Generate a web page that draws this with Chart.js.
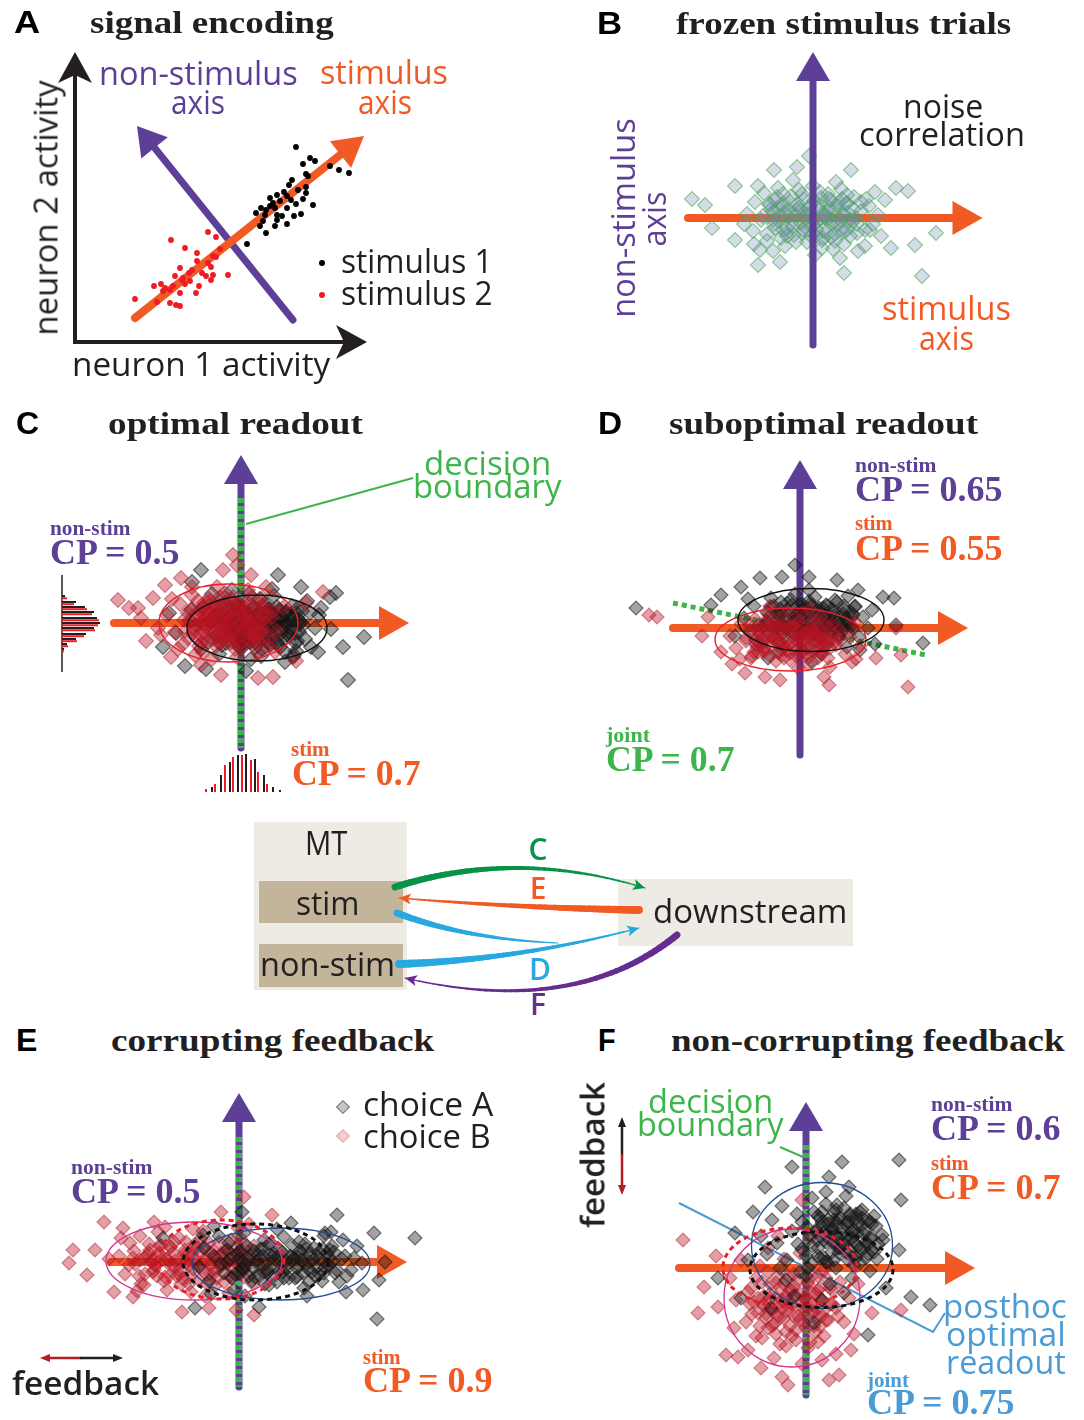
<!DOCTYPE html>
<html>
<head>
<meta charset="utf-8">
<script src="https://cdn.jsdelivr.net/npm/chart.js@4"></script>
<style>
  body { margin: 0; background: #fff; }
  #fig { position: relative; width: 1084px; height: 1420px; overflow: hidden; background: #fff; }
  #fig canvas { position: absolute; }
  .t { position: absolute; white-space: nowrap; line-height: 1; transform-origin: 0 0; }
</style>
</head>
<body>
<div id="fig"></div>
<script>
// ---------- data (units: arbitrary activity, origin where the axes cross) ----------

// A: signal encoding
const stim1Trials = [[22.1,19.5],[23.5,18.4],[24.0,18.1],[22.8,17.8],[25.5,17.6],[26.4,17.2],[27.4,16.9],[23.1,16.8],[21.7,16.2],
  [21.4,15.7],[23.1,15.5],[22.3,15.2],[20.2,14.7],[20.9,15.0],[23.1,14.9],[19.5,14.4],[21.2,14.6],[21.6,14.2],[22.8,14.3],
  [20.5,14.1],[19.8,13.9],[22.1,13.8],[23.8,13.7],[19.5,13.6],[18.6,13.4],[20.0,13.4],[21.2,13.4],[19.1,13.2],[18.1,12.9],
  [19.0,12.7],[20.2,12.7],[20.7,12.6],[21.9,12.6],[22.6,12.8],[18.8,12.1],[20.2,12.2],[21.2,11.8],[18.5,11.6],[20.0,11.6],
  [19.1,10.9],[17.2,9.8],[23.3,16.6]];
const stim2Trials = [[13.3,11.0],[14.1,10.5],[9.6,10.2],[11.0,9.4],[14.5,9.3],[12.2,8.9],[13.8,8.6],[14.1,8.5],[12.2,8.1],
  [13.3,7.9],[10.5,7.4],[11.7,7.2],[13.6,7.5],[11.4,6.9],[12.7,6.9],[10.0,6.6],[10.8,6.4],[13.1,6.6],[13.8,6.7],[15.3,6.7],
  [10.7,6.2],[11.5,6.1],[11.0,5.8],[13.6,6.2],[7.9,5.6],[8.6,5.8],[9.8,5.6],[12.4,5.6],[9.0,5.4],[8.8,5.1],[9.5,5.2],
  [10.5,4.9],[12.1,4.9],[6.0,4.3],[8.2,4.0],[9.5,3.9],[10.1,3.7],[10.5,3.6]];
const aNeuron1Axis = [[0,0],[29.2,0]];
const aNeuron2Axis = [[0,0],[0,29.0]];
const aStimAxis = [[6.0,2.4],[28.9,20.6]];
const aNonStimAxis = [[21.8,2.2],[6.2,21.6]];

// B: frozen stimulus trials
const frozenTrials = [[-12.1,1.9],[8.3,3.0],[9.5,2.7],[12.3,-1.5],[10.9,-5.8],[-0.4,6.2],[10.2,-2.7],[7.8,-3.0],[-5.5,-4.7],
  [3.1,-5.5],[3.8,4.8],[-1.6,5.1],[-3.9,4.8],[-7.8,3.2],[-10.8,1.3],[-10.1,-1.0],[5.7,-1.2],[7.2,1.8],[-5.3,-3.2],[2.7,-4.0],
  [-7.8,-2.2],[-3.3,-4.4],
  [-6.6,0.4],[-6.0,-1.3],[-5.8,1.6],[-5.2,-0.2],[-4.9,2.5],[-4.6,-2.3],[-4.2,0.9],[-3.8,-1.0],[-3.5,3.0],[-3.1,1.4],
  [-2.8,-2.8],[-2.5,0.1],[-2.2,2.2],[-1.9,-1.7],[-1.6,0.8],[-1.2,-0.5],[-0.9,1.9],[-0.6,-2.4],[-0.3,0.3],[0.0,3.2],
  [0.3,-1.1],[0.6,1.2],[0.9,-3.0],[1.2,0.0],[1.5,2.4],[1.8,-1.9],[2.1,0.9],[2.4,-0.7],[2.8,2.9],[3.1,-2.6],[3.4,1.5],
  [3.7,-0.2],[4.1,2.1],[4.4,-1.5],[4.8,0.7],[5.2,-2.8],[5.6,1.2],[6.0,-0.6],[6.5,0.3],[-6.9,-0.6],[-5.5,3.2],[-4.0,-3.3],
  [-2.0,3.8],[0.2,-3.7],[2.3,3.6],[4.5,-3.3],[6.2,2.6],[-3.4,-0.3],[-1.0,-1.2],[0.8,2.0],[2.9,0.4],[4.3,0.0],[-4.4,1.4],
  [-2.6,-1.5],[1.0,-2.0],[3.4,-1.2],[5.3,1.9],[-0.2,-0.6],[1.6,1.0],[-1.4,2.8],[-5.9,-2.6],[6.8,-1.8],[-3.0,2.4],[2.0,-3.1],
  [-5.0,0.2],[-4.6,-1.6],[-4.3,1.3],[-3.9,-0.6],[-3.6,2.1],[-3.2,-2.0],[-2.9,0.5],[-2.6,-1.0],[-2.3,1.6],[-2.0,-0.3],
  [-1.7,-2.4],[-1.4,1.0],[-1.1,2.4],[-0.8,-0.9],[-0.5,0.9],[-0.2,-1.8],[0.1,1.7],[0.4,-0.4],[0.7,2.6],[1.0,0.5],
  [1.3,-1.4],[1.6,1.9],[1.9,-0.2],[2.2,-2.3],[2.5,1.2],[2.8,-1.1],[3.1,0.3],[3.4,2.3],[3.7,-1.8],[4.0,0.9],[4.4,-0.6],
  [4.8,1.6],[5.2,-1.2],[-3.0,1.2],[-1.0,0.1],[0.9,-2.2],[2.9,1.9],[-4.0,0.6],[1.5,0.0],[3.6,-0.3],
  [-4.0,-0.2],[-3.5,1.0],[-3.0,-1.2],[-2.5,0.8],[-2.0,-0.8],[-1.5,1.4],[-1.0,-1.5],[-0.5,0.4],[0.0,-0.7],[0.5,1.0],
  [1.0,-1.2],[1.5,0.7],[2.0,-0.5],[2.5,1.5],[3.0,-1.4],[3.5,0.5],[4.0,-0.3],[-3.2,0.2],[-1.8,0.3],[-0.3,1.2],[1.2,0.2],
  [2.7,-0.2],[-2.6,-1.8],[0.3,-1.8],[2.2,-1.6],[-1.2,0.8],[0.8,0.0],[3.3,1.4],[-3.8,1.8],[1.8,1.8]];
const bStimAxis = [[-12.5,0],[16.95,0]];
const bNonStimAxis = [[0,-12.7],[0,16.6]];

// C: optimal readout
const cChoiceA = [[-4.0,5.3],[3.7,4.8],[9.5,3.0],[8.9,2.6],[12.3,-1.4],[10.2,-2.4],[10.7,-5.7],[7.7,-2.9],[-7.8,-2.4],
  [-5.6,-4.3],[-3.5,-4.6],[4.4,-3.9],[5.3,-3.2],[8.0,1.5],[-4.9,4.1],[-7.2,1.0],[6.0,3.6],[0.5,-4.8],[-6.5,-1.0],[9.0,-0.6],
  [-4.5,-0.2],[-3.8,1.6],[-3.3,-1.9],[-2.6,0.7],[-2.2,-3.1],[-1.7,2.5],[-1.2,-0.8],[-0.7,1.1],[-0.2,-2.4],[0.3,0.2],
  [0.8,2.9],[1.2,-1.5],[1.6,0.8],[2.0,-3.3],[2.4,1.9],[2.9,-0.4],[3.3,2.7],[3.7,-2.2],[4.2,0.5],[4.6,-1.1],[5.1,1.7],
  [5.5,-2.8],[6.0,0.1],[6.4,-1.6],[6.9,1.0],[7.4,-0.5],[7.8,0.8],[-4.0,-2.6],[-2.9,2.9],[-0.9,3.3],[1.0,-3.6],[3.1,3.4],
  [5.2,-3.4],[6.6,2.2],[-1.5,-2.0],[0.6,-0.9],[2.2,0.0],[3.9,1.2],[5.8,-0.9],[-3.0,0.1],[1.9,2.4],[4.4,-2.9],[-0.4,1.8],
  [2.7,-1.9],[7.0,-2.4],[-5.0,1.3],[1.4,-0.2],[3.5,-0.9],[-1.9,0.4],[4.9,0.3],[0.0,-1.6],[2.6,1.1],[5.5,1.0],[-2.4,-1.2],
  [6.2,-0.2],[-0.6,-0.4],
  [-2.7,-0.9],[-2.3,0.9],[-1.9,-2.2],[-1.5,0.2],[-1.1,1.5],[-0.8,-1.4],[-0.4,0.6],[0.0,-2.5],[0.2,1.3],[0.5,-0.3],
  [0.9,-1.9],[1.2,1.6],[1.5,-1.1],[1.8,0.5],[2.1,-2.6],[2.4,-0.6],[2.7,1.3],[3.0,-1.5],[3.3,0.1],[3.6,1.6],[3.9,-2.4],
  [4.2,-0.3],[4.5,1.1],[4.8,-1.3],[5.1,0.6],[5.5,-2.0],[5.8,-0.1],[6.1,1.2],[-2.0,1.7],[-0.2,-1.0],[1.0,0.3],[2.0,-1.6],
  [3.1,0.9],[4.0,-1.0],[5.0,-0.6],[0.4,-1.5],[2.9,-2.2],[-1.2,-0.4],[3.8,0.5],[1.4,-2.4],[4.6,0.0],[-0.6,1.9],[2.5,0.2],
  [5.6,1.4],[0.7,0.9],
  [-1.4,-0.6],[-1.0,0.8],[-0.6,-1.7],[-0.2,0.2],[0.2,1.2],[0.6,-1.0],[1.0,0.4],[1.4,-1.9],[1.8,1.0],[2.2,-0.5],
  [2.6,0.9],[3.0,-1.2],[3.4,0.4],[3.8,1.3],[4.2,-1.6],[4.6,-0.2],[5.0,0.9],[5.4,-1.0],[5.8,0.3],[0.0,-0.9],[0.8,-0.1],
  [1.6,0.1],[2.4,-1.4],[3.2,-0.3],[4.0,0.6],[4.8,-0.9],[5.6,-1.8],[1.2,1.4],[2.8,1.4],[3.6,-1.9],[-0.8,0.0],[2.0,-0.9],
  [4.4,1.0],[0.4,-1.9],[3.0,0.0],[1.5,-0.7],[5.2,0.3],[-0.4,-1.2],[2.6,0.3],[4.0,-0.6]];
const cChoiceB = [[-12.3,2.3],[-11.2,1.5],[-10.3,1.5],[-8.8,2.5],[-7.6,3.8],[-6.0,4.5],[-1.8,5.3],[-0.8,6.8],[1.0,4.8],
  [2.5,3.6],[8.2,3.1],[1.7,-5.5],[3.2,-5.4],[-2.0,-5.2],[-4.0,-4.2],[-7.0,-3.4],[-8.3,-0.5],[-0.4,5.8],[-9.5,-1.8],
  [-10.0,0.5],[5.5,-3.8],[6.5,2.0],
  [-7.4,0.8],[-6.6,-0.9],[-6.1,1.9],[-5.8,-2.1],[-5.2,0.2],[-4.9,2.8],[-4.5,-1.4],[-4.1,1.2],[-3.8,-2.9],[-3.4,0.5],
  [-3.1,2.2],[-2.8,-0.6],[-2.5,1.5],[-2.2,-2.0],[-1.9,0.1],[-1.6,3.0],[-1.3,-1.2],[-1.0,1.0],[-0.6,-2.6],[-0.3,2.0],
  [0.0,-0.3],[0.4,0.9],[0.8,-1.8],[1.1,2.6],[1.5,0.3],[1.9,-1.0],[2.3,1.6],[2.7,-2.3],[3.1,0.6],[3.6,-0.8],[-6.9,2.4],
  [-6.3,-2.6],[-4.6,-3.2],[-2.4,3.6],[-0.4,-3.4],[0.7,3.3],[1.7,-3.0],[-3.5,-0.1],[-1.4,0.6],[0.2,-2.4],[-5.3,1.0],
  [-4.2,-2.3],[-0.8,2.6],[2.4,0.0],[-8.0,-1.2],[4.2,1.5],[-2.9,-3.6],[1.3,-0.6],[-4.9,3.6],[3.4,-2.9],[-3.0,1.0],
  [-1.9,-1.4],[-0.2,1.4],[1.0,-1.3],[-5.6,-0.8],[-2.1,2.6],[0.6,0.2],[2.0,2.4],[-3.7,2.0],[-1.1,-2.0],
  [-5.7,0.3],[-5.3,-1.5],[-4.9,1.4],[-4.6,-0.6],[-4.3,2.2],[-4.0,-2.0],[-3.7,0.8],[-3.4,-1.2],[-3.1,1.8],[-2.8,0.2],
  [-2.5,-2.3],[-2.2,1.1],[-1.9,-0.8],[-1.6,2.0],[-1.3,-1.7],[-1.0,0.4],[-0.7,-0.5],[-0.4,1.6],[-0.1,-2.1],[0.2,0.7],
  [0.5,-1.0],[0.8,1.9],[1.1,-0.1],[1.4,-2.0],[1.7,1.0],[2.0,-0.9],[2.4,0.5],[2.8,-1.6],[3.2,1.2],[-5.0,0.2],[-3.9,-0.3],
  [-2.6,-1.0],[-1.5,0.8],[-0.3,-1.3],[0.9,0.3],[2.1,1.8],[-4.4,1.0],[-3.2,2.4],[-0.9,2.3],[1.5,-1.3],[-2.0,-1.9],
  [-3.6,0.0],[0.0,0.0],[-1.8,0.3],[-4.8,-1.0],
  [-4.4,0.5],[-4.1,-1.1],[-3.8,1.5],[-3.5,-0.4],[-3.2,0.9],[-2.9,-1.6],[-2.6,1.6],[-2.3,-0.1],[-2.0,1.0],[-1.7,-1.2],
  [-1.4,1.7],[-1.1,-0.6],[-0.8,0.6],[-0.5,-1.7],[-0.2,1.1],[0.1,-0.8],[0.4,1.5],[0.7,-0.2],[1.0,0.8],[1.3,-1.5],
  [1.6,1.4],[1.9,0.1],[2.2,-0.7],[2.5,1.0],[-4.0,0.0],[-3.0,0.3],[-2.2,-0.9],[-1.3,0.2],[-0.4,-0.3],[0.5,0.4],
  [1.4,-0.5],[-3.6,-1.7],[-1.8,1.8],[0.2,1.8],[1.8,-1.9],[-2.7,0.7],[-0.9,-1.3],[0.9,-1.0],[-1.6,-0.3],[-3.3,1.2]];
const cFitA = [1.6, -0.5, 7.0, 3.3];
const cFitB = [-1.25, 0.0, 6.95, 3.9];
const cStimAxis = [[-12.7,0],[16.8,0]];
const cNonStimAxis = [[0,-12.5],[0,16.8]];
const cBoundary = [[0,12.5],[0,-12.5]];
const nonStimBins = [2.7, 2.1, 1.6, 1.1, 0.5, 0.0, -0.5, -1.1, -1.6, -2.1, -2.6];
const nonStimCountA = [3, 14, 23, 32, 35, 38, 32, 24, 14, 5, 2];
const nonStimCountB = [5, 12, 25, 30, 37, 36, 33, 22, 15, 6, 2];
const stimBinsA = [-2.9, -2.0, -1.1, -0.3, 0.5, 1.4, 2.3, 3.2, 3.9];
const stimCountA = [5, 17, 30, 37, 38, 33, 17, 5, 2];
const stimBinsB = [-3.5, -2.6, -1.6, -0.8, 0.1, 1.0, 1.7, 2.6];
const stimCountB = [3, 8, 27, 35, 37, 32, 20, 8];

// D: suboptimal readout
const dChoiceA = [[-16.4,2.0],[-0.5,6.3],[-1.8,5.1],[-4.0,5.0],[-5.9,4.1],[-7.9,3.3],[3.7,4.8],[8.3,3.1],[9.4,3.0],
  [12.3,-1.5],[9.6,0.3],[0.9,5.1],[-8.9,2.3],[-3.2,-3.0],[1.2,-3.4],[5.8,3.8],[-6.5,-0.8],[7.5,-1.6],
  [-5.6,1.0],[-5.0,-0.4],[-4.6,2.2],[-4.1,0.3],[-3.7,-1.2],[-3.3,1.6],[-2.9,3.0],[-2.5,-0.1],[-2.1,1.2],[-1.7,-1.6],
  [-1.3,2.5],[-0.9,0.4],[-0.5,3.4],[-0.1,-0.9],[0.3,1.8],[0.7,-2.0],[1.1,0.9],[1.5,3.1],[1.9,-0.5],[2.3,2.0],[2.7,-1.6],
  [3.1,0.6],[3.5,2.8],[3.9,-0.7],[4.3,1.4],[4.7,-1.9],[5.1,0.2],[5.5,2.2],[5.9,-0.9],[6.3,1.1],[6.8,0.0],[7.2,1.8],
  [-5.2,2.9],[-2.2,-2.4],[0.9,3.8],[2.1,-2.6],[4.8,3.2],[6.0,-2.2],[-3.6,0.2],[-0.4,1.3],[1.6,-1.2],[2.9,1.2],[4.2,0.1],
  [-1.8,0.5],[0.5,-0.2],[3.3,-0.4],[5.3,1.3],[-2.6,2.2],[1.0,2.4],[-4.4,-1.6],
  [-3.3,0.6],[-2.9,2.1],[-2.6,-0.6],[-2.2,1.4],[-1.9,2.6],[-1.5,0.0],[-1.2,1.8],[-0.8,-0.8],[-0.5,0.9],[-0.1,2.3],
  [0.2,-0.3],[0.6,1.2],[0.9,2.7],[1.3,0.1],[1.6,1.6],[2.0,-1.0],[2.3,0.7],[2.7,2.2],[3.0,-0.2],[3.4,1.5],[3.7,2.6],
  [4.1,0.4],[4.4,1.9],[4.8,-0.5],[5.1,1.0],[5.5,2.1],[-2.0,0.4],[0.0,1.0],[1.9,2.0],[3.9,-0.9],[-0.9,2.8],[2.5,1.2],
  [4.6,0.8],[-3.0,1.2],[1.1,-0.6],[3.2,0.3],[0.4,2.0],[-1.7,-0.5],[5.3,0.0],[2.1,0.1],
  [-2.4,0.8],[-2.0,1.9],[-1.6,0.1],[-1.2,1.2],[-0.8,2.3],[-0.4,0.4],[0.0,1.6],[0.4,-0.3],[0.8,0.9],[1.2,2.2],
  [1.6,0.3],[2.0,1.4],[2.4,-0.5],[2.8,0.7],[3.2,1.9],[3.6,0.0],[4.0,1.1],[4.4,2.2],[4.8,0.4],[5.2,1.5],[-1.8,1.4],
  [-0.6,1.0],[0.6,0.2],[1.8,1.8],[3.0,0.4],[4.2,-0.3],[-1.0,-0.2],[1.0,1.5],[2.2,0.8],[3.4,1.2],[0.2,2.4],[2.6,2.3],
  [4.6,1.0],[-2.2,0.2],[1.4,-0.5],[3.8,0.6]];
const dChoiceB = [[-15.1,1.3],[-14.3,1.1],[10.8,-5.9],[-5.5,-4.5],[-3.5,-4.9],[-2.0,-5.2],[2.4,-4.9],[2.9,-5.7],[7.6,-3.0],
  [10.1,-2.7],[-9.2,1.1],[-7.9,-2.4],[5.2,-3.4],[9.6,0.0],[-6.8,-3.6],[-9.8,-0.8],
  [-7.0,-0.8],[-6.4,-2.0],[-5.9,0.4],[-5.4,-1.3],[-4.9,-3.0],[-4.5,0.9],[-4.0,-0.6],[-3.6,-2.4],[-3.2,1.4],[-2.8,-1.0],
  [-2.4,-3.3],[-2.0,0.3],[-1.6,-1.9],[-1.2,1.6],[-0.8,-0.4],[-0.4,-2.8],[0.0,0.7],[0.4,-1.4],[0.8,-3.6],[1.2,0.1],
  [1.6,-2.2],[2.0,1.1],[2.4,-0.9],[2.8,-3.0],[3.2,0.4],[3.6,-1.7],[4.0,-0.2],[4.5,-2.6],[5.0,-0.9],[5.5,0.6],[6.0,-1.8],
  [-6.0,-3.1],[-3.0,2.2],[-0.2,-4.0],[1.0,1.9],[3.0,-3.9],[5.6,-3.1],[-4.3,-1.9],[-1.9,-0.2],[0.6,-0.6],[2.2,-1.7],
  [-3.3,0.2],[1.5,-1.0],[-1.0,-2.5],[3.9,-1.1],[-5.0,-0.2],[0.2,1.5],[-2.2,-1.4],
  [-5.4,-1.0],[-5.0,0.3],[-4.6,-2.4],[-4.2,-0.3],[-3.8,-1.7],[-3.4,0.7],[-3.0,-2.8],[-2.6,-0.8],[-2.2,0.9],[-1.8,-2.2],
  [-1.4,-0.1],[-1.0,-3.2],[-0.6,-1.3],[-0.2,0.6],[0.2,-2.3],[0.6,-0.4],[1.0,-1.9],[1.4,0.8],[1.8,-3.0],[2.2,-1.2],
  [2.6,0.3],[3.0,-2.0],[3.4,-0.6],[-4.4,-1.2],[-2.0,-1.5],[0.4,-1.2],[2.8,-1.5],[-3.2,-0.9],[-0.8,0.2],[1.6,-0.8],
  [-1.6,-3.0],[0.9,-2.9],[-4.8,-2.8],[-2.8,0.1],[1.2,-0.2],[-0.3,-2.2],[2.0,-2.4],[-3.6,-2.0],[0.0,-0.8],[3.5,-1.4],
  [-4.4,-1.2],[-4.0,0.0],[-3.6,-2.2],[-3.2,-0.6],[-2.8,-1.8],[-2.4,0.2],[-2.0,-2.6],[-1.6,-1.0],[-1.2,0.3],[-0.8,-2.0],
  [-0.4,-0.7],[0.0,-2.7],[0.4,-1.6],[0.8,-0.2],[1.2,-2.3],[1.6,-1.3],[2.0,0.0],[2.4,-1.9],[2.8,-0.8],[-3.8,-1.0],
  [-2.6,-1.1],[-1.4,-2.2],[-0.2,-1.3],[1.0,-1.0],[2.2,-2.6],[-3.0,0.3],[-1.8,-0.2],[0.6,-2.6],[1.8,-0.6],[-4.2,-2.4],
  [-0.6,0.2],[0.2,-0.5],[-2.2,-1.5],[1.4,-0.4],[-1.0,-1.5],[2.6,-1.2]];
const dFitA = [1.1, 0.8, 7.3, 3.15];
const dFitB = [-0.95, -1.15, 7.55, 3.15];
const dStimAxis = [[-12.7,0],[16.8,0]];
const dNonStimAxis = [[0,-12.7],[0,16.8]];
const dBoundary = [[-12.7,2.5],[12.6,-2.7]];

// E: corrupting feedback
const eChoiceA = [[9.8,4.7],[13.5,2.9],[17.6,2.4],[14.0,-1.8],[13.8,-5.7],[12.4,-2.8],[-4.4,-4.6],[0.3,5.0],[5.2,3.9],
  [-7.6,2.4],[8.6,2.9],[10.7,-3.0],[11.5,0.4],[14.6,0.0],[-2.5,3.6],[2.0,-4.5],
  [-4.0,-0.5],[-3.5,1.4],[-3.0,-1.9],[-2.5,0.6],[-2.0,2.6],[-1.5,-1.1],[-1.0,1.9],[-0.5,-2.8],[0.0,0.3],[0.5,2.9],
  [1.0,-1.4],[1.5,1.1],[2.0,-0.3],[2.5,2.2],[3.0,-2.3],[3.5,0.8],[4.0,-0.9],[4.5,2.5],[5.0,-1.6],[5.5,0.4],[6.0,2.0],
  [6.5,-2.6],[7.0,0.0],[7.5,1.4],[8.0,-1.2],[8.5,2.6],[9.0,-0.3],[9.5,1.0],[10.0,-2.0],[10.6,0.6],[11.2,-0.8],[11.8,1.6],
  [12.3,-0.1],[-2.8,-3.2],[0.6,-3.4],[3.8,3.3],[6.8,-3.4],[9.2,3.0],[1.9,0.7],[4.7,0.1],[7.8,-0.5],[-1.2,0.0],[2.8,-1.1],
  [5.8,-0.6],[8.8,0.9],[3.2,1.9],[6.2,1.0],[0.4,-0.7],[10.4,2.2],[-3.6,2.7],
  [-1.8,-0.2],[-1.2,1.2],[-0.7,-1.6],[-0.2,0.8],[0.3,-0.6],[0.8,1.6],[1.3,-1.9],[1.8,0.1],[2.3,1.3],[2.8,-0.8],
  [3.3,0.5],[3.8,-2.0],[4.3,1.0],[4.8,-0.7],[5.3,1.7],[5.8,-1.5],[6.3,0.2],[6.8,1.3],[7.3,-1.0],[7.8,0.6],[8.3,-1.9],
  [8.8,-0.2],[9.3,1.6],[9.8,-0.8],[10.3,0.3],[10.8,-1.4],[0.0,-1.1],[2.0,-1.3],[4.0,-0.1],[6.0,-0.4],[8.0,1.0],[3.0,1.8],
  [5.2,0.5],[7.0,-2.0],[9.0,0.4],[1.0,0.3],[4.5,-1.6],[6.6,1.8],[2.6,-2.2],[8.5,-1.1],
  [-0.9,0.3],[-0.4,-1.2],[0.1,1.1],[0.6,-0.3],[1.1,0.6],[1.6,-1.5],[2.1,1.3],[2.6,-0.2],[3.1,0.7],[3.6,-1.3],
  [4.1,1.2],[4.6,-0.5],[5.1,0.6],[5.6,-1.6],[6.1,1.1],[6.6,-0.2],[7.1,0.8],[7.6,-1.4],[8.1,0.3],[8.6,-0.6],[9.1,1.2],
  [9.6,-1.1],[0.4,0.0],[1.4,-0.6],[2.4,0.6],[3.4,0.1],[4.4,-1.0],[5.4,0.2],[6.4,-1.1],[7.4,0.2],[8.4,1.3],[9.4,0.1],
  [3.9,0.4],[5.9,0.5],[2.9,-1.0],[6.9,-0.7]];
const eChoiceB = [[-13.5,4.0],[-16.6,1.2],[-17.0,-0.1],[-14.4,1.2],[-12.5,-3.0],[-10.6,-3.5],[-5.7,-5.0],[1.5,-5.3],
  [-1.8,5.0],[3.3,4.7],[0.5,6.5],[-11.6,3.4],[-15.2,-1.3],[-13.0,0.3],[-8.5,4.0],[-3.0,-4.6],[1.0,3.8],[-0.3,-4.8],
  [-12.0,0.6],[-11.4,-1.2],[-10.9,1.9],[-10.4,-0.2],[-9.9,2.6],[-9.5,-2.3],[-9.0,0.9],[-8.6,-1.0],[-8.1,3.0],[-7.7,0.2],
  [-7.2,-2.8],[-6.8,1.5],[-6.4,-0.5],[-6.0,2.4],[-5.6,-1.7],[-5.2,0.7],[-4.8,-3.0],[-4.4,1.8],[-4.0,-0.4],[-3.6,3.1],
  [-3.2,-1.3],[-2.8,0.9],[-2.4,-2.4],[-2.0,2.0],[-1.6,-0.2],[-1.2,1.2],[-0.8,-1.6],[-0.4,0.4],[0.0,2.6],[0.4,-0.9],
  [0.9,1.0],[1.4,-2.2],[1.9,0.2],[2.5,-1.0],[-10.2,-2.9],[-7.4,3.5],[-4.6,3.3],[-3.4,-3.4],[-1.0,-3.1],[-0.1,3.4],
  [-8.3,-0.3],[-5.8,0.1],[-3.9,1.0],[-6.9,-1.3],[-2.6,-0.6],[-11.8,2.4],[-5.0,-2.2],[-1.8,0.8],[0.6,1.8],[-7.9,1.7],
  [-11.0,-0.3],[-10.5,1.1],[-10.0,-1.4],[-9.5,0.4],[-9.0,1.8],[-8.5,-0.8],[-8.0,0.9],[-7.5,-1.9],[-7.0,0.1],[-6.5,2.0],
  [-6.0,-1.2],[-5.5,0.8],[-5.0,-0.3],[-4.5,1.4],[-4.0,-1.8],[-3.5,0.2],[-3.0,1.9],[-2.5,-1.1],[-2.0,0.5],[-1.5,-2.0],
  [-1.0,1.0],[-0.5,-0.7],[0.0,0.9],[0.5,-1.5],[1.0,0.2],[1.5,1.6],[-9.8,-2.2],[-7.8,1.6],[-5.8,-2.2],[-3.8,2.3],
  [-1.8,-0.4],[0.2,-0.1],[-6.8,-0.4],[-4.8,0.6],[-2.8,-0.2],[-8.8,0.0],[-10.6,0.4],[-3.2,-2.2],[-5.3,2.0],[-0.8,2.2],
  [-9.9,0.2],[-9.4,-1.2],[-8.9,1.2],[-8.4,-0.3],[-7.9,0.7],[-7.4,-1.5],[-6.9,1.5],[-6.4,0.1],[-5.9,-0.8],[-5.4,1.2],
  [-4.9,-1.5],[-4.4,0.3],[-3.9,-0.5],[-3.4,1.4],[-2.9,-1.2],[-2.4,0.5],[-1.9,-0.4],[-1.4,1.1],[-0.9,-1.4],[-0.4,0.0],
  [0.1,0.9],[0.6,-0.6],[-9.2,0.6],[-8.2,-1.4],[-7.2,0.3],[-6.2,-1.4],[-5.2,0.0],[-4.2,1.4],[-3.2,0.2],[-2.2,-1.6],
  [-1.2,-0.2],[-0.2,1.6],[-6.6,0.9],[-4.6,-0.7],[-2.6,1.1],[-8.6,0.2]];
const eFitA = [4.2, -0.2, 8.9, 3.6];
const eFitB = [-4.5, 0.1, 8.8, 3.9];
const eNoFeedbackA = [1.65, 0.0, 7.25, 3.8];
const eNoFeedbackB = [-1.8, 0.25, 6.3, 3.95];
const eStimAxis = [[-12.8,0],[16.8,0]];
const eNonStimAxis = [[0,-12.5],[0,16.9]];
const eBoundary = [[0,12.5],[0,-12.5]];

// F: non-corrupting feedback
const fChoiceA = [[3.6,10.6],[9.3,10.8],[9.5,6.8],[9.3,1.8],[12.4,-3.7],[10.5,-2.9],[6.2,-6.7],[-1.4,10.1],[-4.1,8.1],
  [2.3,9.1],[-5.3,5.6],[-7.1,3.5],[4.3,8.1],[7.7,2.8],[-5.8,0.8],[-3.5,-4.0],[0.8,-5.5],[8.0,-2.0],[-8.8,-1.0],[-6.5,-3.0],
  [-4.5,3.2],[-3.9,1.4],[-3.4,4.8],[-2.9,2.5],[-2.4,6.2],[-1.9,0.8],[-1.4,3.7],[-0.9,5.4],[-0.4,1.9],[0.1,4.1],[0.6,7.0],
  [1.1,2.8],[1.6,5.6],[2.1,0.6],[2.6,3.9],[3.1,6.3],[3.6,2.2],[4.1,4.6],[4.6,1.1],[5.1,3.4],[5.6,5.8],[6.1,2.4],[6.6,4.4],
  [7.1,0.9],[7.6,3.3],[-2.0,-1.2],[0.0,-0.8],[2.4,-1.6],[4.6,-1.0],[6.4,-0.3],[-1.2,-2.8],[1.6,-3.2],[3.8,-2.5],[2.8,4.8],
  [4.4,3.0],[5.0,5.0],[3.3,1.5],[5.8,2.0],[1.8,3.6],[0.5,0.4],[-2.6,0.0],[3.0,0.0],[6.8,1.6],[4.0,7.2],[2.0,7.6],
  [-0.6,-0.4],[1.2,1.2],[5.4,0.5],
  [-0.8,2.4],[-0.4,4.6],[0.0,1.2],[0.4,3.3],[0.8,5.6],[1.2,2.0],[1.6,4.2],[2.0,6.4],[2.4,2.8],[2.8,0.8],[3.2,4.9],
  [3.6,3.4],[4.0,1.6],[4.4,5.4],[4.8,3.8],[5.2,2.2],[5.6,4.3],[6.0,1.0],[6.4,3.0],[6.8,5.2],[7.2,2.4],[1.0,3.6],[2.2,4.8],
  [3.4,2.0],[4.6,3.0],[5.8,3.4],[3.0,5.8],[4.2,4.2],[2.6,3.9],[5.0,1.2],[1.8,1.0],[6.2,4.8],[0.2,0.0],[3.8,6.0],[5.4,5.6],
  [2.0,2.6],[4.8,0.3],[3.2,3.0],[1.4,5.0],[6.6,1.8],
  [0.6,2.2],[1.0,3.8],[1.4,1.0],[1.8,2.8],[2.2,4.4],[2.6,1.6],[3.0,3.2],[3.4,5.0],[3.8,2.4],[4.2,0.8],[4.6,3.6],
  [5.0,5.4],[5.4,2.0],[5.8,3.8],[6.2,1.4],[6.6,3.0],[7.0,4.2],[1.2,5.2],[2.0,0.6],[2.8,5.6],[3.6,4.0],[4.4,1.8],[5.2,4.4],
  [6.0,2.6],[4.0,3.0],[3.2,2.0],[4.8,2.6],[2.4,3.6],[5.6,5.0],[6.4,4.6],[3.0,4.4],[4.4,5.2],[1.6,4.6],[5.0,1.0],[2.8,2.6],
  [4.2,4.6]];
const fChoiceB = [[-12.3,2.8],[-10.8,-4.5],[-8.0,-8.7],[-1.8,-11.7],[3.3,-10.7],[9.5,-4.2],[6.6,-4.5],[-10.2,-1.9],
  [-8.8,-3.9],[-6.8,-8.9],[2.3,-11.2],[-2.4,-10.9],[-0.4,6.8],[-9.0,1.2],[4.5,-8.2],[-4.5,-10.0],
  [-7.6,-1.0],[-7.0,-3.2],[-6.5,0.8],[-6.0,-5.4],[-5.5,-2.0],[-5.0,-6.8],[-4.6,0.2],[-4.2,-3.8],[-3.8,2.0],[-3.4,-5.8],
  [-3.0,-1.5],[-2.6,-7.6],[-2.2,0.9],[-1.8,-4.2],[-1.4,-2.2],[-1.0,-6.2],[-0.6,1.5],[-0.2,-3.0],[0.2,-8.0],[0.6,-0.8],
  [1.0,-5.0],[1.4,-2.0],[1.8,-6.8],[2.2,0.4],[2.6,-3.6],[3.0,-8.6],[3.4,-1.4],[3.8,-5.4],[4.3,-3.0],[4.8,-6.6],
  [-5.8,-8.2],[-3.2,-9.0],[-0.4,-9.6],[1.6,-9.2],[-7.2,-6.0],[5.2,-1.6],[-2.8,3.2],[0.4,3.0],[-4.8,-4.5],[-2.0,-2.8],
  [0.8,-3.8],[-1.2,-0.6],[2.0,-1.0],[-3.6,-3.0],[-0.8,-4.8],[1.2,-7.4],[-5.6,-3.6],[3.2,-4.8],
  [-5.8,-2.4],[-5.4,-4.6],[-5.0,-1.0],[-4.6,-5.8],[-4.2,-2.8],[-3.8,-0.4],[-3.4,-4.2],[-3.0,-6.6],[-2.6,-2.0],[-2.2,-5.0],
  [-1.8,-0.8],[-1.4,-3.6],[-1.0,-7.2],[-0.6,-2.6],[-0.2,-5.4],[0.2,-1.6],[0.6,-4.4],[1.0,-6.4],[1.4,-3.0],[1.8,-0.2],
  [2.2,-5.2],[2.6,-2.2],[3.0,-4.0],[-4.4,-7.0],[-2.4,-3.2],[-0.4,-4.0],[1.6,-4.8],[-3.6,-1.6],[-1.6,-5.8],[0.4,-7.4],
  [-5.2,-3.4],[-2.0,-7.8],[0.0,-3.0],[2.4,-3.6],[-3.0,-3.8],[-1.2,-1.8],[1.2,-2.2],[-4.0,-5.0],[0.8,-5.8],[-2.8,-4.8],
  [-4.8,-3.0],[-4.4,-1.4],[-4.0,-4.6],[-3.6,-2.6],[-3.2,-5.6],[-2.8,-0.8],[-2.4,-4.0],[-2.0,-6.4],[-1.6,-2.2],[-1.2,-4.8],
  [-0.8,-1.2],[-0.4,-3.4],[0.0,-6.0],[0.4,-2.4],[0.8,-4.4],[1.2,-0.8],[1.6,-3.2],[2.0,-5.2],[2.4,-2.0],[-4.2,-3.6],
  [-3.0,-3.0],[-1.8,-3.8],[-0.6,-5.2],[0.6,-3.6],[1.8,-4.2],[-3.4,-4.2],[-2.2,-1.6],[-1.0,-2.8],[0.2,-1.4],[1.4,-5.8],
  [-3.8,-6.0],[-2.6,-5.0],[-1.4,-6.8],[0.0,-4.2],[-2.0,-3.0],[1.0,-2.6]];
const fFitA = [1.6, 2.25, 7.05, 6.3];
const fFitB = [-1.4, -3.0, 6.8, 6.9];
const fNoFeedbackA = [1.55, -0.15, 7.15, 3.8];
const fNoFeedbackB = [-1.6, 0.05, 6.7, 3.95];
const fStimAxis = [[-12.7,0],[16.9,0]];
const fNonStimAxis = [[0,-12.7],[0,16.6]];
const fBoundary = [[0,12.3],[0,-12.7]];
const fPosthocReadout = [[-12.7,6.5],[12.7,-6.4],[13.9,-4.5]];

// schematic: MT -> downstream
const mtArea = [[1.4,16.7],[2.5,19.3]];
const stimPool = [[1.9,16.3],[9.2,13.4]];
const nonStimPool = [[1.9,16.3],[2.8,7.1]];
const downstreamArea = [[37.8,61.3],[6.9,13.6]];
const pathC = [[15.5,12.8],[27.6,16.65],[40.5,12.7]];
const pathE = [[39.9,10.5],[28.1,10.7],[15.9,11.7]];
const pathD1 = [[15.7,10.2],[22.5,7.6],[31.8,7.2]];
const pathD2 = [[15.9,5.1],[27.7,5.5],[39.9,8.7]];
const pathF = [[43.7,8.0],[33.5,-0.25],[16.5,3.7]];

// ---------- style ----------
const PURPLE = '#5d3f97', ORANGE = '#f15a24', GREEN = '#3db54a', BLUE = '#4a9bd6', INK = '#231f20';
const SANS = '"Open Sans", "Noto Sans", sans-serif';
const SERIF = '"Liberation Serif", "Times New Roman", serif';
const ARIAL = '"Liberation Sans", Arial, sans-serif';
const PX = 10; // pixels per data unit

const fig = document.getElementById('fig');

function cloud(arr, bg, border, radius) {
  return {
    data: arr.map(([x, y]) => ({x, y})),
    pointStyle: 'rectRot', pointRadius: radius || 7,
    pointBackgroundColor: bg, pointBorderColor: border, pointBorderWidth: 1.2
  };
}
const choiceA = (arr, r) => cloud(arr, 'rgba(25,25,25,0.4)', 'rgba(20,20,20,0.55)', r);
const choiceB = (arr, r) => cloud(arr, 'rgba(185,20,35,0.4)', 'rgba(175,20,35,0.45)', r);

function arrowPath(ctx, a, b, it) {
  const dx = b[0] - a[0], dy = b[1] - a[1], L = Math.hypot(dx, dy), ux = dx / L, uy = dy / L;
  const hl = it.head[0], hw = it.head[1], notch = it.notch || 0;
  const bx = b[0] - ux * hl, by = b[1] - uy * hl;
  ctx.strokeStyle = ctx.fillStyle = it.color;
  ctx.lineWidth = it.w; ctx.lineCap = it.cap || 'round';
  ctx.beginPath(); ctx.moveTo(a[0], a[1]); ctx.lineTo(bx + ux * (notch + 2), by + uy * (notch + 2)); ctx.stroke();
  ctx.beginPath(); ctx.moveTo(b[0], b[1]);
  ctx.lineTo(bx - uy * hw / 2, by + ux * hw / 2);
  ctx.lineTo(bx + ux * notch, by + uy * notch);
  ctx.lineTo(bx + uy * hw / 2, by - ux * hw / 2);
  ctx.closePath(); ctx.fill();
}

function paint(chart, items) {
  const ctx = chart.ctx, sx = chart.scales.x, sy = chart.scales.y;
  const P = p => [sx.getPixelForValue(p[0]), sy.getPixelForValue(p[1])];
  for (const it of items) {
    ctx.save();
    if (it.k === 'arrow') {
      arrowPath(ctx, P(it.pts[0]), P(it.pts[1]), it);
    } else if (it.k === 'line') {
      ctx.strokeStyle = it.color; ctx.lineWidth = it.w; ctx.lineCap = it.cap || 'butt';
      if (it.dash) ctx.setLineDash(it.dash);
      ctx.beginPath();
      it.pts.forEach((p, i) => { const q = P(p); i ? ctx.lineTo(q[0], q[1]) : ctx.moveTo(q[0], q[1]); });
      ctx.stroke();
    } else if (it.k === 'ellipse') {
      const [cx, cy, rx, ry] = it.fit;
      const c = P([cx, cy]), e = P([cx + rx, cy + ry]);
      ctx.strokeStyle = it.color; ctx.lineWidth = it.w;
      if (it.dash) ctx.setLineDash(it.dash);
      ctx.beginPath(); ctx.ellipse(c[0], c[1], Math.abs(e[0] - c[0]), Math.abs(c[1] - e[1]), 0, 0, Math.PI * 2); ctx.stroke();
    } else if (it.k === 'hbars') {
      ctx.strokeStyle = it.color; ctx.lineWidth = 2;
      it.bins.forEach((b, i) => {
        const a = P([it.base, b + it.off]), z = P([it.base + it.counts[i] * 0.1, b + it.off]);
        ctx.beginPath(); ctx.moveTo(a[0], a[1]); ctx.lineTo(z[0], z[1]); ctx.stroke();
      });
    } else if (it.k === 'vbars') {
      ctx.strokeStyle = it.color; ctx.lineWidth = 2;
      it.bins.forEach((b, i) => {
        const a = P([b, it.base]), z = P([b, it.base + it.counts[i] * 0.1]);
        ctx.beginPath(); ctx.moveTo(a[0], a[1]); ctx.lineTo(z[0], z[1]); ctx.stroke();
      });
    } else if (it.k === 'box') {
      const a = P([it.area[0][0], it.area[1][1]]), z = P([it.area[0][1], it.area[1][0]]);
      ctx.fillStyle = it.fill; ctx.fillRect(a[0], a[1], z[0] - a[0], z[1] - a[1]);
    } else if (it.k === 'taper') {
      const [p0, c, p1] = it.path.map(P);
      const at = t => [(1 - t) * (1 - t) * p0[0] + 2 * (1 - t) * t * c[0] + t * t * p1[0],
                       (1 - t) * (1 - t) * p0[1] + 2 * (1 - t) * t * c[1] + t * t * p1[1]];
      ctx.strokeStyle = ctx.fillStyle = it.color; ctx.lineCap = 'round';
      const N = 48; let prev = at(0);
      for (let i = 1; i <= N; i++) {
        const t = i / N, q = at(t);
        ctx.lineWidth = it.w[0] + (it.w[1] - it.w[0]) * t;
        ctx.beginPath(); ctx.moveTo(prev[0], prev[1]); ctx.lineTo(q[0], q[1]); ctx.stroke();
        prev = q;
      }
      if (it.head) {
        const dx = p1[0] - c[0], dy = p1[1] - c[1], L = Math.hypot(dx, dy), ux = dx / L, uy = dy / L;
        const bx = p1[0] - ux * it.head[0], by = p1[1] - uy * it.head[0], hw = it.head[1] / 2;
        ctx.beginPath(); ctx.moveTo(p1[0], p1[1]);
        ctx.lineTo(bx - uy * hw, by + ux * hw); ctx.lineTo(bx + ux * 3, by + uy * 3); ctx.lineTo(bx + uy * hw, by - ux * hw);
        ctx.closePath(); ctx.fill();
      }
    }
    ctx.restore();
  }
}

function panel(box, cross, datasets, under, over) {
  const [left, top, w, h] = box;
  const cv = document.createElement('canvas');
  cv.width = w; cv.height = h;
  cv.style.left = left + 'px'; cv.style.top = top + 'px';
  cv.style.width = w + 'px'; cv.style.height = h + 'px';
  fig.appendChild(cv);
  return new Chart(cv, {
    type: 'scatter',
    data: { datasets },
    options: {
      responsive: false, animation: false, events: [],
      layout: { padding: 0, autoPadding: false },
      plugins: { legend: { display: false }, tooltip: { enabled: false } },
      scales: {
        x: { type: 'linear', display: false, min: (left - cross[0]) / PX, max: (left + w - cross[0]) / PX },
        y: { type: 'linear', display: false, min: (cross[1] - top - h) / PX, max: (cross[1] - top) / PX }
      }
    },
    plugins: [{
      id: 'decor',
      beforeDatasetsDraw: c => paint(c, under),
      afterDatasetsDraw: c => paint(c, over)
    }]
  });
}

const stimArrow = pts => ({k: 'arrow', pts, color: ORANGE, w: 8, head: [30, 34]});
const nonStimArrow = pts => ({k: 'arrow', pts, color: PURPLE, w: 7, head: [29, 34]});
const boundaryDash = pts => ({k: 'line', pts, color: GREEN, w: 6, dash: [5, 3]});

// A
panel([0, 40, 540, 355], [75, 342],
  [cloud(stim1Trials, '#000', '#000', 2.3), cloud(stim2Trials, '#ed1c24', '#ed1c24', 2.3)].map(d => (d.pointStyle = 'circle', d)),
  [{k: 'arrow', pts: aNeuron2Axis, color: INK, w: 4, head: [31, 34], notch: 8, cap: 'square'},
   {k: 'arrow', pts: aNeuron1Axis, color: INK, w: 4, head: [31, 34], notch: 8, cap: 'square'},
   {k: 'arrow', pts: aNonStimAxis, color: PURPLE, w: 7, head: [28, 34]},
   {k: 'arrow', pts: aStimAxis, color: ORANGE, w: 8, head: [30, 34]}],
  []);

// B (non-stimulus axis drawn over the trials)
panel([545, 40, 539, 355], [813, 218],
  [cloud(frozenTrials, 'rgba(120,135,185,0.3)', 'rgba(70,170,80,0.55)', 7.5)],
  [stimArrow(bStimAxis)],
  [nonStimArrow(bNonStimAxis)]);

// C (choice B drawn on top)
panel([0, 440, 560, 360], [241, 623],
  [choiceB(cChoiceB, 7.5), choiceA(cChoiceA, 7.5)],
  [nonStimArrow(cNonStimAxis), boundaryDash(cBoundary), stimArrow(cStimAxis),
   {k: 'line', pts: [[0.5, 9.9], [17.2, 14.5]], color: GREEN, w: 2},
   {k: 'line', pts: [[-17.9, 4.8], [-17.9, -4.9]], color: INK, w: 1.5},
   {k: 'hbars', base: -17.9, bins: nonStimBins, counts: nonStimCountA, off: 0, color: INK},
   {k: 'hbars', base: -17.9, bins: nonStimBins, counts: nonStimCountB, off: -0.22, color: '#ed1c24'},
   {k: 'vbars', base: -16.9, bins: stimBinsA, counts: stimCountA, color: INK},
   {k: 'vbars', base: -16.9, bins: stimBinsB, counts: stimCountB, color: '#ed1c24'}],
  [{k: 'ellipse', fit: cFitB, color: '#e8202a', w: 1.4},
   {k: 'ellipse', fit: cFitA, color: '#111', w: 1.4}]);

// D (choice B drawn on top)
panel([560, 440, 524, 340], [800, 628],
  [choiceB(dChoiceB), choiceA(dChoiceA)],
  [nonStimArrow(dNonStimAxis), stimArrow(dStimAxis),
   {k: 'line', pts: dBoundary, color: GREEN, w: 5, dash: [5, 4]}],
  [{k: 'ellipse', fit: dFitB, color: '#e8202a', w: 1.4},
   {k: 'ellipse', fit: dFitA, color: '#111', w: 1.4}]);

// schematic
panel([240, 815, 620, 200], [240, 1015], [],
  [{k: 'box', area: mtArea, fill: '#eeebe4'},
   {k: 'box', area: stimPool, fill: '#c3b59a'},
   {k: 'box', area: nonStimPool, fill: '#c3b59a'},
   {k: 'box', area: downstreamArea, fill: '#eeebe4'},
   {k: 'taper', path: pathC, w: [7, 1.2], color: '#079247', head: [12, 11]},
   {k: 'taper', path: pathE, w: [8, 1.2], color: ORANGE, head: [12, 11]},
   {k: 'taper', path: pathD1, w: [7, 1.0], color: '#29a8e0'},
   {k: 'taper', path: pathD2, w: [8, 1.2], color: '#29a8e0', head: [12, 11]},
   {k: 'taper', path: pathF, w: [7, 1.2], color: '#662d91', head: [12, 11]}],
  []);

// E
panel([0, 1060, 545, 360], [239, 1262],
  [choiceA(eChoiceA), choiceB(eChoiceB)],
  [nonStimArrow(eNonStimAxis), boundaryDash(eBoundary), stimArrow(eStimAxis),
   {k: 'arrow', pts: [[-15.8, -9.6], [-19.9, -9.6]], color: '#b21f24', w: 2.5, head: [10, 8]},
   {k: 'arrow', pts: [[-15.8, -9.6], [-11.6, -9.6]], color: INK, w: 2.5, head: [10, 8]}],
  [{k: 'ellipse', fit: eFitB, color: '#d4338f', w: 1.3},
   {k: 'ellipse', fit: eFitA, color: '#1f4e96', w: 1.3},
   {k: 'ellipse', fit: eNoFeedbackB, color: '#e8202a', w: 3, dash: [5, 4]},
   {k: 'ellipse', fit: eNoFeedbackA, color: '#111', w: 3, dash: [5, 4]}]);

// F
panel([560, 1060, 524, 360], [806, 1268],
  [choiceA(fChoiceA), choiceB(fChoiceB)],
  [nonStimArrow(fNonStimAxis), boundaryDash(fBoundary), stimArrow(fStimAxis),
   {k: 'line', pts: fPosthocReadout, color: BLUE, w: 2},
   {k: 'line', pts: [[-2.6, 12.1], [-0.3, 11.1]], color: GREEN, w: 2},
   {k: 'arrow', pts: [[-18.4, 11.3], [-18.4, 15.1]], color: INK, w: 2.5, head: [10, 8]},
   {k: 'arrow', pts: [[-18.4, 11.3], [-18.4, 7.3]], color: '#b21f24', w: 2.5, head: [10, 8]}],
  [{k: 'ellipse', fit: fFitB, color: '#d4338f', w: 1.3},
   {k: 'ellipse', fit: fFitA, color: '#1f4e96', w: 1.3},
   {k: 'ellipse', fit: fNoFeedbackB, color: '#e8202a', w: 3, dash: [5, 4]},
   {k: 'ellipse', fit: fNoFeedbackA, color: '#111', w: 3, dash: [5, 4]}]);

// ---------- text ----------
function txt(s, x, y, o) {
  const d = document.createElement('div');
  d.className = 't';
  d.textContent = s;
  d.style.font = `${o.weight || 400} ${o.size || 32}px ${o.font || SANS}`;
  d.style.color = o.color || INK;
  fig.appendChild(d);
  const k = o.w ? o.w / d.offsetWidth : 1;
  d.style.left = x + 'px';
  d.style.top = y + 'px';
  if (o.rot) d.style.transform = `rotate(-90deg) scaleX(${k}) translate(-50%, -50%)`;
  else if (o.center) d.style.transform = `scaleX(${k}) translate(-50%, -50%)`;
  else d.style.transform = `scaleX(${k}) translateY(-50%)`;
}
const letter = (s, x, y, w) => txt(s, x, y, {font: ARIAL, weight: 700, size: 32, w, color: '#000'});
const title = (s, x, y, w) => txt(s, x, y, {font: SERIF, weight: 700, size: 32, w});
const small = (s, x, y, color, w) => txt(s, x, y, {font: SERIF, weight: 700, size: 21, color, w});
const cp = (s, x, y, color, w) => txt(s, x, y, {font: SERIF, weight: 700, size: 36, color, w});
function marker(x, y, css) {
  const d = document.createElement('div');
  d.style.cssText = `position:absolute;left:${x}px;top:${y}px;` + css;
  fig.appendChild(d);
}

letter('A', 14, 22, 26); title('signal encoding', 90, 22, 244);
letter('B', 597, 23, 25); title('frozen stimulus trials', 676, 23, 335);
letter('C', 16, 423, 23); title('optimal readout', 108, 423, 255);
letter('D', 598, 423, 24); title('suboptimal readout', 669, 423, 309);
letter('E', 16, 1040, 21); title('corrupting feedback', 111, 1040, 323);
letter('F', 598, 1040, 18); title('non-corrupting feedback', 671, 1040, 393);

// A
txt('non-stimulus', 99, 72, {color: PURPLE, w: 199});
txt('axis', 171, 101, {color: PURPLE, w: 54});
txt('stimulus', 320, 71, {color: ORANGE, w: 128});
txt('axis', 358, 101, {color: ORANGE, w: 54});
txt('neuron 1 activity', 72, 363, {w: 258});
txt('neuron 2 activity', 45, 208, {w: 255, rot: true});
marker(319, 260, 'width:6px;height:6px;border-radius:50%;background:#000;');
marker(319, 292, 'width:6px;height:6px;border-radius:50%;background:#ed1c24;');
txt('stimulus 1', 341, 260, {w: 152});
txt('stimulus 2', 341, 292, {w: 152});

// B
txt('noise', 903, 105, {w: 80});
txt('correlation', 859, 133, {w: 166});
txt('non-stimulus', 622, 218, {color: PURPLE, w: 200, rot: true});
txt('axis', 653, 219, {color: PURPLE, w: 55, rot: true});
txt('stimulus', 882, 307, {color: ORANGE, w: 129});
txt('axis', 919, 337, {color: ORANGE, w: 55});

// C
txt('decision', 424, 462, {color: GREEN, w: 127});
txt('boundary', 413, 485, {color: GREEN, w: 149});
small('non-stim', 50, 528, PURPLE, 80); cp('CP = 0.5', 50, 552, PURPLE, 130);
small('stim', 291, 749, ORANGE, 39); cp('CP = 0.7', 292, 773, ORANGE, 129);

// D
small('non-stim', 855, 465, PURPLE, 81); cp('CP = 0.65', 855, 489, PURPLE, 148);
small('stim', 855, 523, ORANGE, 38); cp('CP = 0.55', 855, 548, ORANGE, 148);
small('joint', 606, 735, GREEN, 44); cp('CP = 0.7', 606, 759, GREEN, 129);

// schematic
txt('MT', 305, 842, {w: 42});
txt('stim', 296, 902, {w: 63});
txt('non-stim', 260, 963, {w: 135});
txt('downstream', 653, 910, {w: 194});
txt('C', 538, 848, {color: '#079247', weight: 600, size: 30, center: true});
txt('E', 538, 887, {color: ORANGE, weight: 600, size: 30, center: true});
txt('D', 540, 968, {color: '#29a8e0', weight: 600, size: 30, center: true});
txt('F', 538, 1003, {color: '#662d91', weight: 600, size: 30, center: true});

// E
marker(338, 1102, 'width:10px;height:10px;transform:rotate(45deg);background:rgba(30,30,30,0.26);border:1px solid rgba(0,0,0,0.45);box-sizing:border-box;');
marker(338, 1131, 'width:10px;height:10px;transform:rotate(45deg);background:rgba(200,30,45,0.22);border:1px solid rgba(185,25,40,0.25);box-sizing:border-box;');
txt('choice A', 363, 1103, {w: 130});
txt('choice B', 363, 1135, {w: 128});
small('non-stim', 71, 1167, PURPLE, 81); cp('CP = 0.5', 71, 1191, PURPLE, 130);
small('stim', 363, 1357, ORANGE, 38); cp('CP = 0.9', 363, 1380, ORANGE, 130);
txt('feedback', 12, 1382, {weight: 600, w: 147});

// F
txt('feedback', 592, 1155, {weight: 600, w: 146, rot: true});
txt('decision', 648, 1100, {color: GREEN, w: 125});
txt('boundary', 637, 1123, {color: GREEN, w: 147});
small('non-stim', 931, 1104, PURPLE, 81); cp('CP = 0.6', 931, 1128, PURPLE, 130);
small('stim', 931, 1163, ORANGE, 38); cp('CP = 0.7', 931, 1187, ORANGE, 130);
txt('posthoc', 943, 1305, {color: BLUE, w: 124});
txt('optimal', 946, 1333, {color: BLUE, w: 120});
txt('readout', 946, 1361, {color: BLUE, w: 120});
small('joint', 867, 1380, BLUE, 42); cp('CP = 0.75', 867, 1402, BLUE, 148);
</script>
</body>
</html>
